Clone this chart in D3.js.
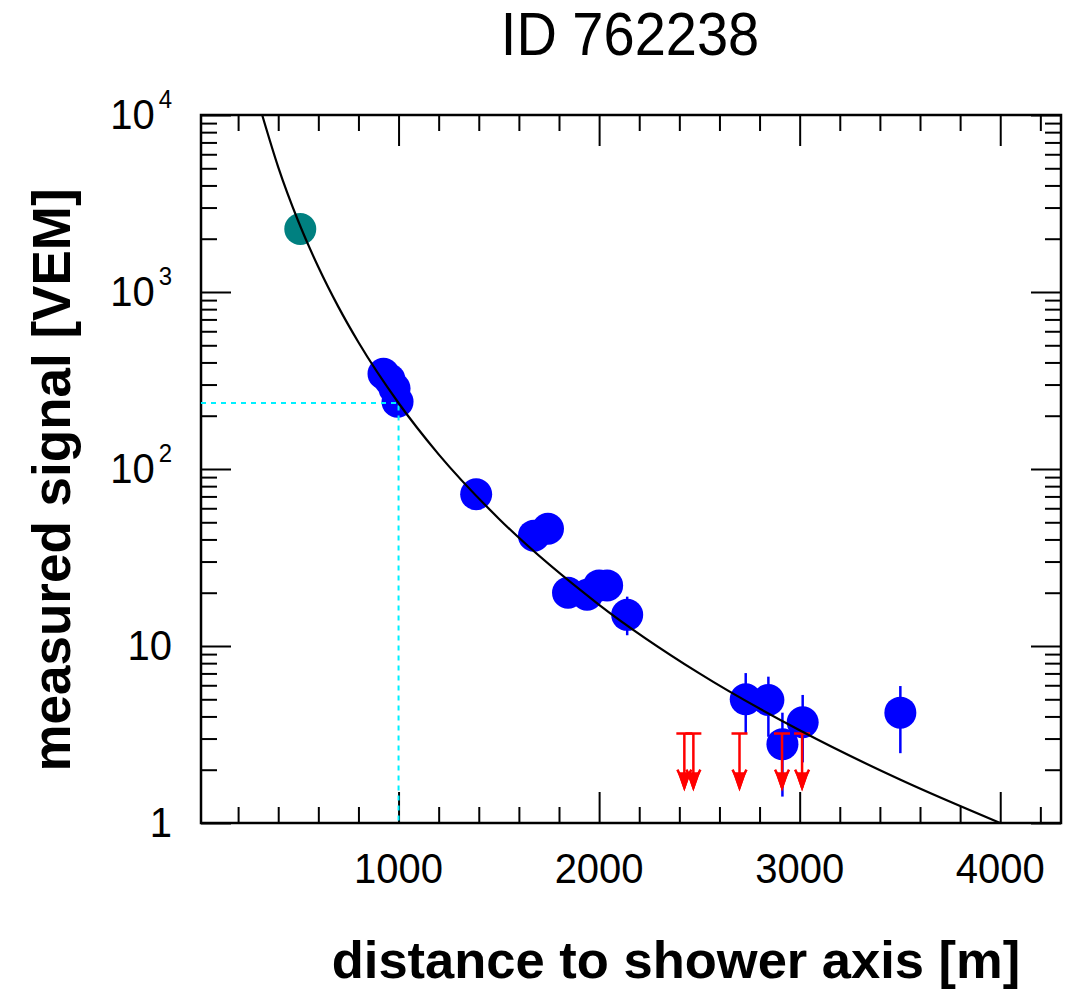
<!DOCTYPE html>
<html>
<head>
<meta charset="utf-8">
<script src="https://cdn.jsdelivr.net/npm/d3@7"></script>
<style>
  html, body { margin: 0; padding: 0; background: #fff; }
  svg { display: block; }
  text { font-family: "Liberation Sans", Arial, Helvetica, sans-serif; fill: #000; }
</style>
</head>
<body>
<svg id="chart" width="1073" height="989"></svg>
<script>
// ---------------- data ----------------
const chartTitle = "ID 762238";
const xAxisTitle = "distance to shower axis [m]";
const yAxisTitle = "measured signal [VEM]";

const xMajorTicks = [1000, 2000, 3000, 4000];
const xTickLabels = ["1000", "2000", "3000", "4000"];
const xMinorTicks = [200, 400, 600, 800, 1200, 1400, 1600, 1800, 2200, 2400, 2600, 2800, 3200, 3400, 3600, 3800, 4200];

const yMajorTicks = [1, 10, 100, 1000, 10000];
const yTickBase = ["1", "10", "10", "10", "10"];
const yTickExp = ["", "", "2", "3", "4"];

// saturated station (teal)
const satDist = [510];
const satSignal = [2270];

// regular stations (blue) with error bars
const stationDist   = [925, 955, 980, 995, 1387, 1675, 1745, 1845, 1940, 2000, 2040, 2140, 2731, 2844, 2914, 3015, 3502];
const stationSignal = [345, 320, 285, 240, 72, 42, 46, 20, 19.5, 22, 22, 15, 5.0, 4.95, 2.79, 3.71, 4.2];
const stationErrLo  = [320, 295, 262, 222, 63, 37, 41, 17, 16.5, 19, 19, 11.5, 3.22, 3.07, 1.41, 2.2, 2.48];
const stationErrHi  = [370, 345, 308, 258, 81, 47, 51, 23, 22.5, 25, 25, 19, 7.03, 6.71, 4.2, 5.29, 5.94];

// upper limits (red arrows)
const limitDist   = [2425, 2470, 2700, 2912, 3012];
const limitSignal = [3.2, 3.2, 3.2, 3.2, 3.2];

// fitted lateral distribution function
const fitDist   = [320, 400, 500, 600, 700, 800, 1000, 1200, 1500, 2000, 2500, 3000, 3500, 4000];
const fitSignal = [10000, 5075, 2510, 1384, 824, 520, 236, 121, 52.4, 17.1, 7.0, 3.34, 1.76, 1.0];

// reference S(1000)
const refDist = 1000;
const refSignal = 236;

// ---------------- drawing ----------------
const svg = d3.select("#chart");
const L = 201, R = 1061, T = 115, B = 823;

const x = d3.scaleLinear().domain([15, 4303]).range([L, R]);
const y = d3.scaleLog().domain([1, 10000]).range([B, T]);

const yMinorTicks = [];
[1, 10, 100, 1000].forEach(d => { for (let m = 2; m <= 9; m++) yMinorTicks.push(d * m); });

svg.append("defs").append("clipPath").attr("id", "plotclip")
  .append("rect").attr("x", L).attr("y", T).attr("width", R - L).attr("height", B - T);

// axes ticks
function styleAxis(g) {
  g.select(".domain").remove();
  g.selectAll(".tick line").attr("stroke", "#000").attr("stroke-width", 2);
  g.selectAll(".tick text").remove();
}
const axes = svg.append("g");
axes.append("g").attr("transform", `translate(0,${B})`)
  .call(d3.axisBottom(x).tickValues(xMinorTicks).tickSize(-16).tickSizeOuter(0)).call(styleAxis);
axes.append("g").attr("transform", `translate(0,${B})`)
  .call(d3.axisBottom(x).tickValues(xMajorTicks).tickSize(-31).tickSizeOuter(0)).call(styleAxis);
axes.append("g").attr("transform", `translate(0,${T})`)
  .call(d3.axisTop(x).tickValues(xMinorTicks).tickSize(-16).tickSizeOuter(0)).call(styleAxis);
axes.append("g").attr("transform", `translate(0,${T})`)
  .call(d3.axisTop(x).tickValues(xMajorTicks).tickSize(-31).tickSizeOuter(0)).call(styleAxis);
axes.append("g").attr("transform", `translate(${L},0)`)
  .call(d3.axisLeft(y).tickValues(yMinorTicks).tickSize(-16).tickSizeOuter(0)).call(styleAxis);
axes.append("g").attr("transform", `translate(${L},0)`)
  .call(d3.axisLeft(y).tickValues(yMajorTicks).tickSize(-30).tickSizeOuter(0)).call(styleAxis);
axes.append("g").attr("transform", `translate(${R},0)`)
  .call(d3.axisRight(y).tickValues(yMinorTicks).tickSize(-16).tickSizeOuter(0)).call(styleAxis);
axes.append("g").attr("transform", `translate(${R},0)`)
  .call(d3.axisRight(y).tickValues(yMajorTicks).tickSize(-30).tickSizeOuter(0)).call(styleAxis);

// frame
svg.append("rect").attr("x", L).attr("y", T).attr("width", R - L).attr("height", B - T)
  .attr("fill", "none").attr("stroke", "#000").attr("stroke-width", 2.5);

// tick labels (slightly tall glyphs, as in the original bitmap font)
svg.append("g").selectAll("text").data(xMajorTicks).join("text")
  .attr("transform", d => `translate(${x(d)},883) scale(1,1.08)`)
  .attr("text-anchor", "middle")
  .attr("font-size", 40).text((d, i) => xTickLabels[i]);

const yl = svg.append("g").selectAll("text").data(yMajorTicks).join("text")
  .attr("transform", d => `translate(172,${y(d) + 14}) scale(1,1.08)`)
  .attr("text-anchor", "end").attr("font-size", 40);
yl.append("tspan").text((d, i) => yTickBase[i]);
yl.append("tspan").attr("font-size", 24).attr("dy", -19).attr("dx", 4)
  .text((d, i) => yTickExp[i]);

// data layer
const plot = svg.append("g").attr("clip-path", "url(#plotclip)");

// error bars
plot.append("g").selectAll("line").data(stationDist).join("line")
  .attr("x1", d => x(d)).attr("x2", d => x(d))
  .attr("y1", (d, i) => y(stationErrLo[i])).attr("y2", (d, i) => y(stationErrHi[i]))
  .attr("stroke", "#0000ff").attr("stroke-width", 2.5);

// stations
plot.append("g").selectAll("circle").data(stationDist).join("circle")
  .attr("cx", d => x(d)).attr("cy", (d, i) => y(stationSignal[i])).attr("r", 16)
  .attr("fill", "#0000ff");

plot.append("g").selectAll("circle").data(satDist).join("circle")
  .attr("cx", d => x(d)).attr("cy", (d, i) => y(satSignal[i])).attr("r", 16)
  .attr("fill", "#008080");

// S(1000) reference lines
plot.append("path")
  .attr("d", `M${L},${y(refSignal)}H${x(refDist)}V${B}`)
  .attr("fill", "none").attr("stroke", "#00f0ff").attr("stroke-width", 2)
  .attr("stroke-dasharray", "5,5");

// upper limits
const arrowLen = 54;
const lim = plot.append("g").selectAll("g").data(limitDist).join("g")
  .attr("transform", (d, i) => `translate(${x(d)},${y(limitSignal[i])})`)
  .attr("stroke", "#ff0000").attr("stroke-width", 2.5).attr("fill", "none");
lim.append("path").attr("d", `M-8,0H8M0,0V${arrowLen}`);
lim.append("path").attr("d", `M-7,${arrowLen - 18}L-4,${arrowLen - 12}L0,${arrowLen}L4,${arrowLen - 12}L7,${arrowLen - 18}`);
lim.append("path").attr("d", `M-5,${arrowLen - 14}L0,${arrowLen}L5,${arrowLen - 14}Z`).attr("fill", "#ff0000");

// fitted LDF
const fitData = fitDist.map((d, i) => [d, fitSignal[i]]);
plot.append("path").datum(fitData)
  .attr("d", d3.line().x(d => x(d[0])).y(d => y(d[1])).curve(d3.curveMonotoneX))
  .attr("fill", "none").attr("stroke", "#000").attr("stroke-width", 2.2);

// titles
svg.append("text").attr("transform", "translate(630,55) scale(1,1.08)").attr("text-anchor", "middle")
  .attr("font-size", 56).text(chartTitle);
svg.append("text").attr("x", 676).attr("y", 978).attr("text-anchor", "middle")
  .attr("font-size", 52.5).attr("font-weight", "bold").text(xAxisTitle);
svg.append("text").attr("transform", "translate(70,480) rotate(-90)").attr("text-anchor", "middle")
  .attr("font-size", 53).attr("font-weight", "bold").text(yAxisTitle);
</script>
</body>
</html>
